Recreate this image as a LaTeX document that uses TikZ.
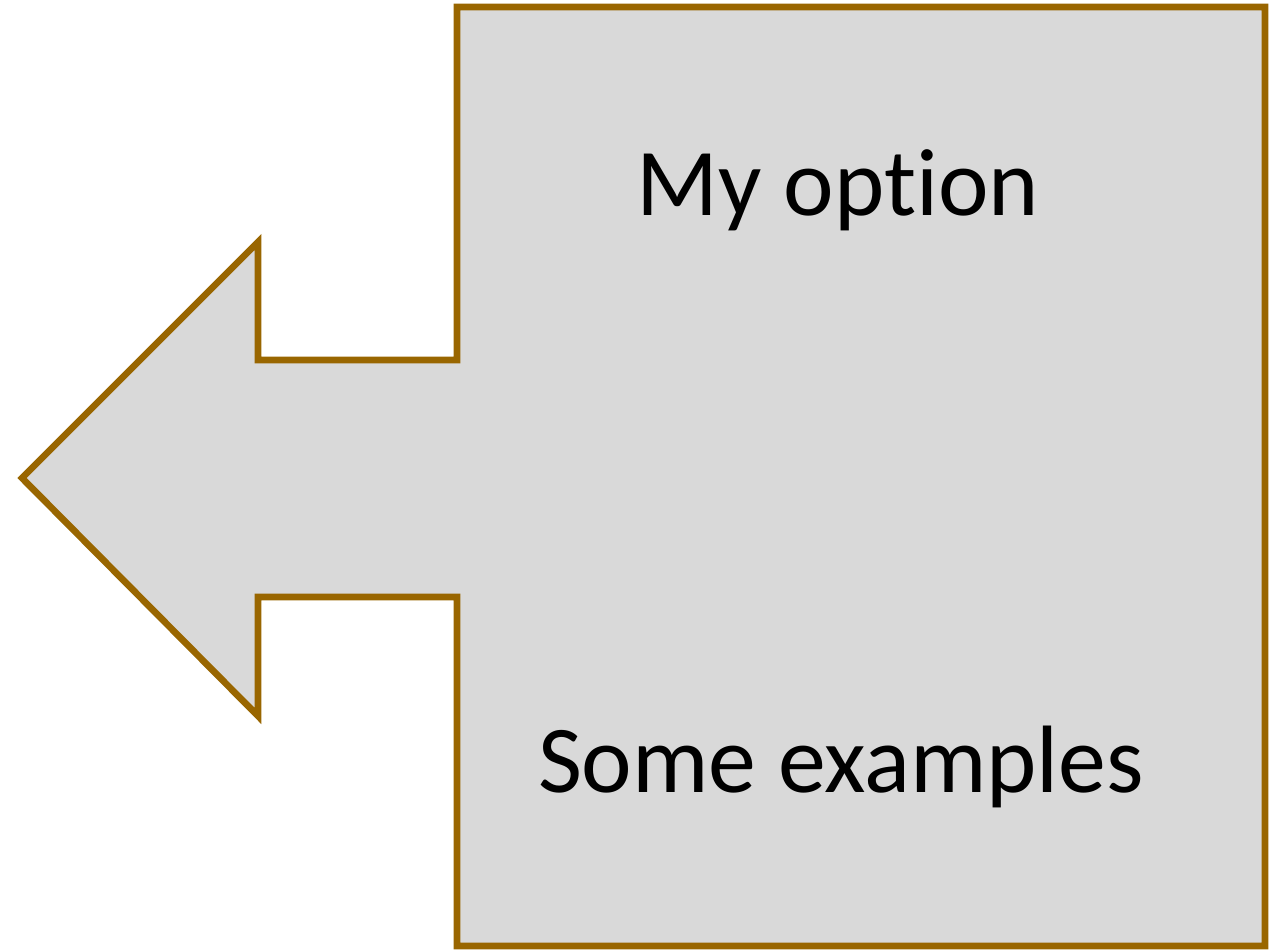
\documentclass[tikz,border=0pt]{standalone}
\usepackage{fontspec}
\setmainfont[Ligatures=CommonOff]{Carlito}
\usetikzlibrary{positioning}
\definecolor{calloutedge}{HTML}{996600}
\definecolor{calloutfill}{HTML}{D9D9D9}
\tikzset{
  callout/.style={draw=calloutedge, fill=calloutfill, line width=3.8pt, line join=miter},
  lbl/.style={font=\fontsize{54.5}{62}\selectfont, anchor=base, inner sep=0pt},
}
\begin{document}
\begin{tikzpicture}[x=0.02cm, y=-0.02cm]
  \useasboundingbox (0,0) rectangle (1278,950);
  % box with the left-pointing arrow
  \draw[callout] (457,7) -- (1265,7) -- (1265,946) -- (457,946) -- (457,597)
    -- (258,597) -- (258,716) -- (22,478) -- (258,242) -- (258,360) -- (457,360) -- cycle;
  \node[lbl] (opt) at (838,215) {My option};
  \node[lbl] (ex) at (841,792) {Some examples};
\end{tikzpicture}
\end{document}
